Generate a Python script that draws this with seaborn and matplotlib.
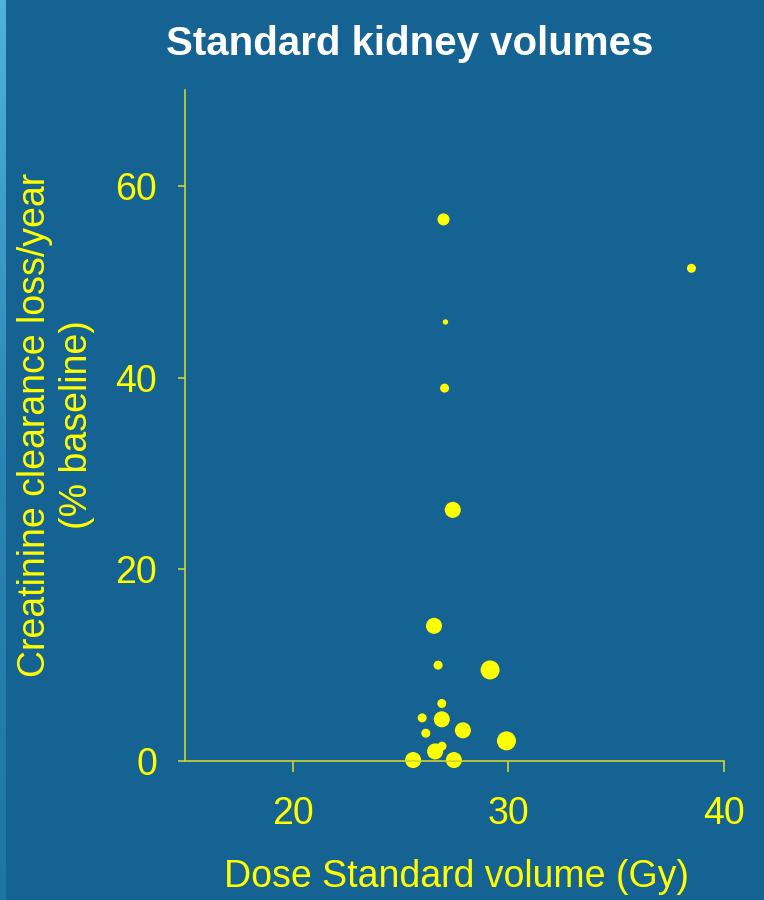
import numpy as np
import pandas as pd
import matplotlib
matplotlib.use("Agg")
import matplotlib.pyplot as plt
from matplotlib.colors import LinearSegmentedColormap
import seaborn as sb

# dati
dose = [26.99, 38.49, 27.08, 27.04, 27.42, 26.55, 26.74, 29.15, 26.91,
        26.00, 26.91, 27.89, 26.17, 29.91, 26.60, 26.92, 25.58, 27.47]
loss = [56.5, 51.4, 45.8, 38.9, 26.2, 14.1, 10.0, 9.5, 6.0,
        4.5, 4.35, 3.2, 2.9, 2.1, 1.0, 1.55, 0.1, 0.1]
weight = [3, 2, 1, 2, 4, 4, 2, 5, 2, 2, 4, 4, 2, 5, 4, 2, 4, 4]

x_ticks = [20, 30, 40]
y_ticks = [0, 20, 40, 60]

df = pd.DataFrame({'dose': dose, 'loss': loss, 'weight': weight})

BG = '#156392'
YEL = '#ffff00'
AXC = '#d0d62c'

sb.set_style('white')
plt.rcParams['font.family'] = ['Liberation Sans', 'DejaVu Sans']

fig = plt.figure(figsize=(7.64, 9.0), dpi=100)
fig.patch.set_facecolor(BG)

# striscia chiara a sinistra
strip = fig.add_axes([0, 0, 6 / 764, 1])
cmap = LinearSegmentedColormap.from_list('strip', ['#4db3da', '#2a86b8', '#1f74a6'])
strip.imshow(np.linspace(0, 1, 200).reshape(-1, 1), aspect='auto', cmap=cmap)
strip.axis('off')

ax = fig.add_axes([185 / 764, 1 - 761 / 900, 539 / 764, 671 / 900])
ax.set_facecolor(BG)

sb.scatterplot(data=df, x='dose', y='loss', size='weight',
               sizes={1: 15, 2: 42, 3: 75, 4: 133, 5: 187},
               color=YEL, linewidth=0, legend=False, ax=ax, clip_on=False)

ax.set_xlim(15, 40)
ax.set_ylim(0, 70)
ax.set_xticks(x_ticks)
ax.set_yticks(y_ticks)

for side in ['top', 'right']:
    ax.spines[side].set_visible(False)
for side in ['left', 'bottom']:
    ax.spines[side].set_color(AXC)
    ax.spines[side].set_linewidth(1.2)

ax.tick_params(axis='x', bottom=True, direction='out', length=8, width=1.2, color=AXC,
               labelcolor=YEL, labelsize=27, pad=17)
ax.tick_params(axis='y', left=True, direction='out', length=5, width=1.2, color=AXC,
               labelcolor=YEL, labelsize=27, pad=15)

ax.set_xlabel('')
ax.set_ylabel('')

fig.text(457 / 764, 1 - 887 / 900, 'Dose Standard volume (Gy)', color=YEL,
         fontsize=27, ha='center', va='baseline')
fig.text(56 / 764, 1 - 425 / 900, 'Creatinine clearance loss/year\n(% baseline)',
         color=YEL, fontsize=27, ha='center', va='center', rotation=90,
         multialignment='center')
fig.text(410 / 764, 1 - 55 / 900, 'Standard kidney volumes', color='white',
         fontsize=29, fontweight='bold', ha='center', va='baseline')

fig.savefig('out.png', dpi=100, facecolor=fig.get_facecolor())
